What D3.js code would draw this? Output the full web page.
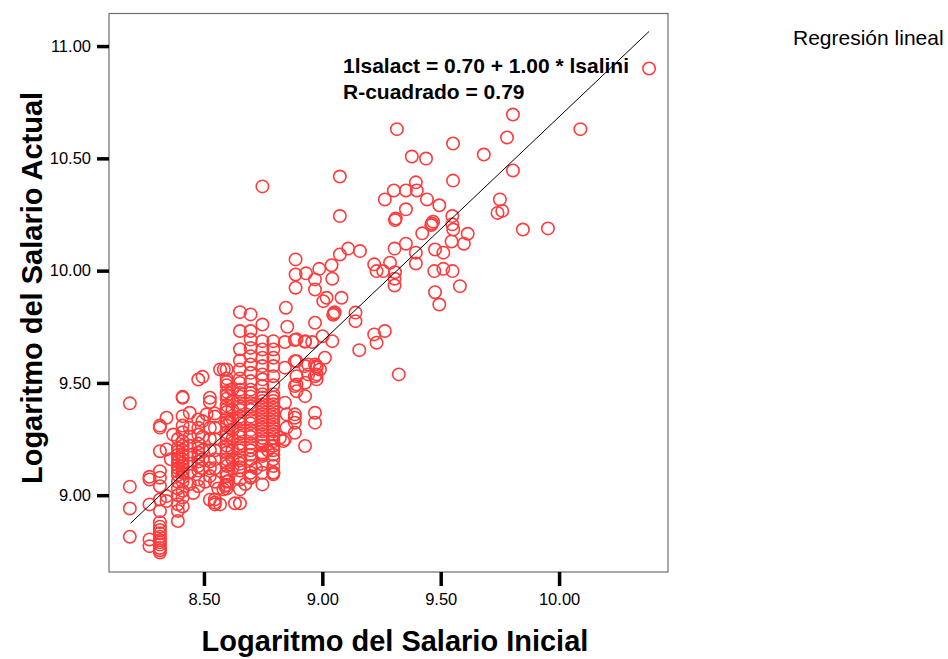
<!DOCTYPE html>
<meta charset="utf-8">
<html lang="es">
<head>
    <title>Regresión lineal: logaritmo del salario</title>
    <script src="https://d3js.org/d3.v7.min.js"></script>
    <style>
        body { margin: 0; background: #fff; }
        text { font-family: "Liberation Sans", Arial, sans-serif; }
        .puntos { fill: none; stroke: #ff3b3b; stroke-width: 1.6px; }
    </style>
</head>
<body>
<div id="grafico"></div>
<script>

// tick values of both axes
var ticksX = [8.5, 9.0, 9.5, 10.0];
var ticksY = [9.0, 9.5, 10.0, 10.5, 11.0];

// regression line: lsalact = b0 + b1 * lsalini
var coefRecta = [0.685, 1.00];
var rangoRecta = [8.19, 10.38];

// dense core: columns of lsalini with their lsalact values
var colX = [8.187, 8.27, 8.314, 8.342, 8.39, 8.41, 8.44, 8.476, 8.494, 8.525, 8.546, 8.596, 8.62, 8.652, 8.697, 8.747, 8.793];
var colY = [
    [9.409, 9.038, 8.941, 8.815],
    [9.082, 9.07, 8.959, 8.803, 8.773],
    [8.745, 8.755, 8.765, 8.78, 8.79, 8.80, 8.815, 8.83, 8.845, 8.86, 8.88, 8.929, 8.981, 9.04, 9.078, 9.107, 9.196, 9.301, 9.31],
    [9.345, 9.204, 8.996, 8.974],
    [8.885, 8.93, 8.96, 9.0, 9.03, 9.06, 9.09, 9.12, 9.15, 9.18, 9.21, 9.25, 9.105, 9.135, 9.165, 9.195],
    [9.434, 9.438, 9.352, 9.31, 9.28, 9.24, 9.2, 9.16, 9.13, 9.1, 9.06, 9.02, 8.99, 8.95, 9.22, 9.18, 9.145, 9.115, 9.08],
    [9.367, 9.3, 9.22, 9.14, 9.05, 9.26, 9.18, 9.1],
    [9.515, 9.337, 9.3, 9.27, 9.23, 9.19, 9.15, 9.11, 9.07, 9.04, 9.21, 9.17, 9.13],
    [9.527, 9.33, 9.2, 9.12, 9.26, 9.16],
    [9.434, 9.415, 9.3, 9.085, 8.98, 9.25, 9.2, 9.15, 9.12],
    [9.364, 9.35, 9.25, 9.16, 8.967, 8.959, 8.981, 9.3, 9.2, 9.12, 9.06],
    [9.56, 9.52, 9.49, 9.46, 9.43, 9.4, 9.37, 9.34, 9.31, 9.28, 9.25, 9.22, 9.19, 9.16, 9.13, 9.1, 9.06, 9.03,
     9.505, 9.445, 9.385, 9.325, 9.265, 9.205, 9.145, 9.085, 9.045],
    [9.47, 9.38, 9.29, 9.2, 9.12, 9.42, 9.34, 9.25, 9.16],
    [9.815, 9.731, 9.65, 9.6, 9.56, 9.52, 9.5, 9.47, 9.44, 9.41, 9.38, 9.35, 9.32, 9.29, 9.26, 9.23, 9.2, 9.17, 9.14, 9.11, 9.026,
     9.455, 9.395, 9.335, 9.275, 9.215, 9.155, 9.125, 9.07],
    [9.805, 9.731, 9.693, 9.656, 9.619, 9.582, 9.545, 9.508, 9.47, 9.44, 9.41, 9.38, 9.35, 9.32, 9.29, 9.26, 9.23, 9.2, 9.16, 9.1, 9.078, 9.085,
     9.455, 9.395, 9.335, 9.275, 9.215, 9.18, 9.13],
    [10.375, 9.76, 9.686, 9.649, 9.612, 9.575, 9.538, 9.516, 9.486, 9.45, 9.42, 9.39, 9.36, 9.33, 9.3, 9.27, 9.24, 9.189, 9.174, 9.137, 9.048, 9.181,
     9.435, 9.405, 9.375, 9.345, 9.315, 9.285, 9.255, 9.22, 9.1],
    [9.686, 9.649, 9.612, 9.575, 9.53, 9.49, 9.45, 9.42, 9.39, 9.36, 9.33, 9.3, 9.27, 9.24, 9.2, 9.16, 9.1, 9.093,
     9.435, 9.405, 9.375, 9.345, 9.315, 9.285, 9.255, 9.22, 9.18, 9.13]
];

// loose points in the lower part [lsalini, lsalact]
var sueltosBajos = [
    [8.511, 9.36], [8.568, 9.56], [8.568, 8.959], [8.584, 9.56], [8.582, 9.026], [8.589, 9.041],
    [8.603, 9.063], [8.631, 8.964], [8.652, 8.964], [8.36, 9.16], [8.37, 9.27], [8.455, 9.01],
    [8.505, 9.06], [8.56, 9.03], [8.61, 9.33], [8.675, 9.05], [8.72, 9.12], [8.77, 9.2]
];

// middle zone [lsalini, lsalact]
var zonaMedia = [
    [9.018, 9.879], [9.081, 9.879], [9.049, 9.809], [9.052, 9.815], [9.046, 9.803], [8.846, 9.835],
    [8.969, 9.768], [9.14, 9.813], [9.14, 9.775], [8.852, 9.75], [9.042, 9.686], [9.001, 9.708],
    [8.957, 9.682], [8.927, 9.683], [8.884, 9.691], [8.842, 9.682], [9.156, 9.646], [9.219, 9.716],
    [9.264, 9.731], [9.229, 9.679], [9.323, 9.538], [9.011, 9.612], [8.969, 9.582], [8.884, 9.597],
    [8.842, 9.568], [9.004, 9.864],
    [8.94, 9.582], [8.976, 9.568], [8.94, 9.538], [8.969, 9.53], [8.99, 9.56], [8.884, 9.486],
    [8.842, 9.412], [8.849, 9.36], [8.969, 9.367], [8.969, 9.323], [8.884, 9.36], [8.884, 9.345],
    [8.884, 9.323], [8.849, 9.301], [8.884, 9.278], [8.835, 9.241], [8.927, 9.219], [8.793, 9.1],
    [8.842, 9.249], [8.821, 9.256],
    [8.891, 9.694], [8.891, 9.597], [8.891, 9.53], [8.891, 9.493], [8.891, 9.463], [8.927, 9.686],
    [8.927, 9.575], [8.927, 9.501], [8.927, 9.441], [8.976, 9.575], [8.976, 9.538], [8.976, 9.516]
];

// upper zone [lsalini, lsalact]
var zonaAlta = [
    [10.38, 10.90], [10.09, 10.63], [9.805, 10.695], [9.315, 10.63], [9.78, 10.593], [9.552, 10.566],
    [9.682, 10.517], [9.378, 10.508], [9.438, 10.499], [9.074, 10.419], [9.552, 10.401], [9.805, 10.446],
    [9.395, 10.393], [9.302, 10.357], [9.353, 10.357], [9.399, 10.357], [9.264, 10.317], [9.442, 10.317],
    [9.75, 10.317], [9.494, 10.291], [9.353, 10.273], [9.074, 10.243], [9.307, 10.225], [9.31, 10.232],
    [9.463, 10.21], [9.468, 10.218], [9.46, 10.203], [9.549, 10.243], [9.549, 10.206], [9.553, 10.183],
    [9.422, 10.166], [9.614, 10.164], [9.598, 10.12], [9.546, 10.13], [9.476, 10.094], [9.511, 10.08],
    [9.395, 10.08], [9.395, 10.032], [9.353, 10.12], [9.305, 10.098], [9.159, 10.087], [9.109, 10.098],
    [9.074, 10.072], [9.039, 10.024], [8.987, 10.008], [9.74, 10.257], [9.76, 10.266], [9.847, 10.183],
    [9.953, 10.188], [8.887, 10.05], [8.887, 9.983], [8.931, 9.988], [8.887, 9.924], [8.969, 9.961],
    [8.969, 9.916], [9.042, 9.964], [9.219, 10.028], [9.229, 9.998], [9.257, 9.998], [9.286, 10.035],
    [9.307, 9.993], [9.305, 9.964], [9.305, 9.934], [9.473, 9.998], [9.511, 10.008], [9.55, 9.998],
    [9.476, 9.904], [9.494, 9.849], [9.581, 9.931]
];

// join everything
var datos = [];
colX.forEach(function(xv, i) {
    colY[i].forEach(function(yv) { datos.push([xv, yv]); });
});
datos = datos.concat(sueltosBajos, zonaMedia, zonaAlta);

// plot area
var margin = {top: 13.5, left: 109},
    width = 559,
    height = 558.5;

var svg = d3.select("#grafico")
    .append("svg")
        .attr("width", 948)
        .attr("height", 659);

var g = svg.append("g")
    .attr("transform", "translate(" + margin.left + "," + margin.top + ")");

var x = d3.scaleLinear()
    .domain([8.099, 10.46])
    .range([0, width]);

var y = d3.scaleLinear()
    .domain([8.658, 11.145])
    .range([height, 0]);

// frame
g.append("rect")
    .attr("x", 0).attr("y", 0)
    .attr("width", width).attr("height", height)
    .attr("fill", "none")
    .attr("stroke", "#6e6e6e")
    .attr("stroke-width", 1.2);

// axes
var ejeX = g.append("g")
    .attr("transform", "translate(0," + height + ")")
    .call(d3.axisBottom(x).tickValues(ticksX).tickFormat(d3.format(".2f")).tickSize(14).tickPadding(7));

var ejeY = g.append("g")
    .call(d3.axisLeft(y).tickValues(ticksY).tickFormat(d3.format(".2f")).tickSize(12).tickPadding(6));

[ejeX, ejeY].forEach(function(e) {
    e.select(".domain").remove();
    e.selectAll(".tick line").attr("stroke", "#000").attr("stroke-width", 3.5);
    e.selectAll(".tick text")
        .attr("fill", "#000")
        .style("font-size", "16.5px")
        .style("font-family", "'Liberation Sans', Arial, sans-serif");
});

// points
g.append("g")
    .selectAll("circle")
    .data(datos)
    .enter()
    .append("circle")
    .attr("class", "puntos")
    .attr("cx", function(d) { return x(d[0]); })
    .attr("cy", function(d) { return y(d[1]); })
    .attr("r", 6.2);

// regression line
g.append("line")
    .attr("x1", x(rangoRecta[0]))
    .attr("y1", y(coefRecta[0] + coefRecta[1] * rangoRecta[0]))
    .attr("x2", x(rangoRecta[1]))
    .attr("y2", y(coefRecta[0] + coefRecta[1] * rangoRecta[1]))
    .attr("stroke", "#000")
    .attr("stroke-width", 1);

// equation
g.append("text")
    .attr("x", 234).attr("y", 59)
    .style("font-size", "21px").style("font-weight", "bold")
    .text("1lsalact = 0.70 + " + coefRecta[1].toFixed(2) + " * lsalini");
g.append("text")
    .attr("x", 234).attr("y", 85)
    .style("font-size", "21px").style("font-weight", "bold")
    .text("R-cuadrado = 0.79");

// axis titles
svg.append("text")
    .attr("x", 395).attr("y", 651)
    .attr("text-anchor", "middle")
    .style("font-size", "29px").style("font-weight", "bold")
    .text("Logaritmo del Salario Inicial");

svg.append("text")
    .attr("transform", "translate(42,288) rotate(-90)")
    .attr("text-anchor", "middle")
    .style("font-size", "29px").style("font-weight", "bold")
    .text("Logaritmo del Salario Actual");

// legend
svg.append("text")
    .attr("x", 793).attr("y", 45)
    .style("font-size", "21px")
    .text("Regresión lineal");

</script>
</body>
</html>
